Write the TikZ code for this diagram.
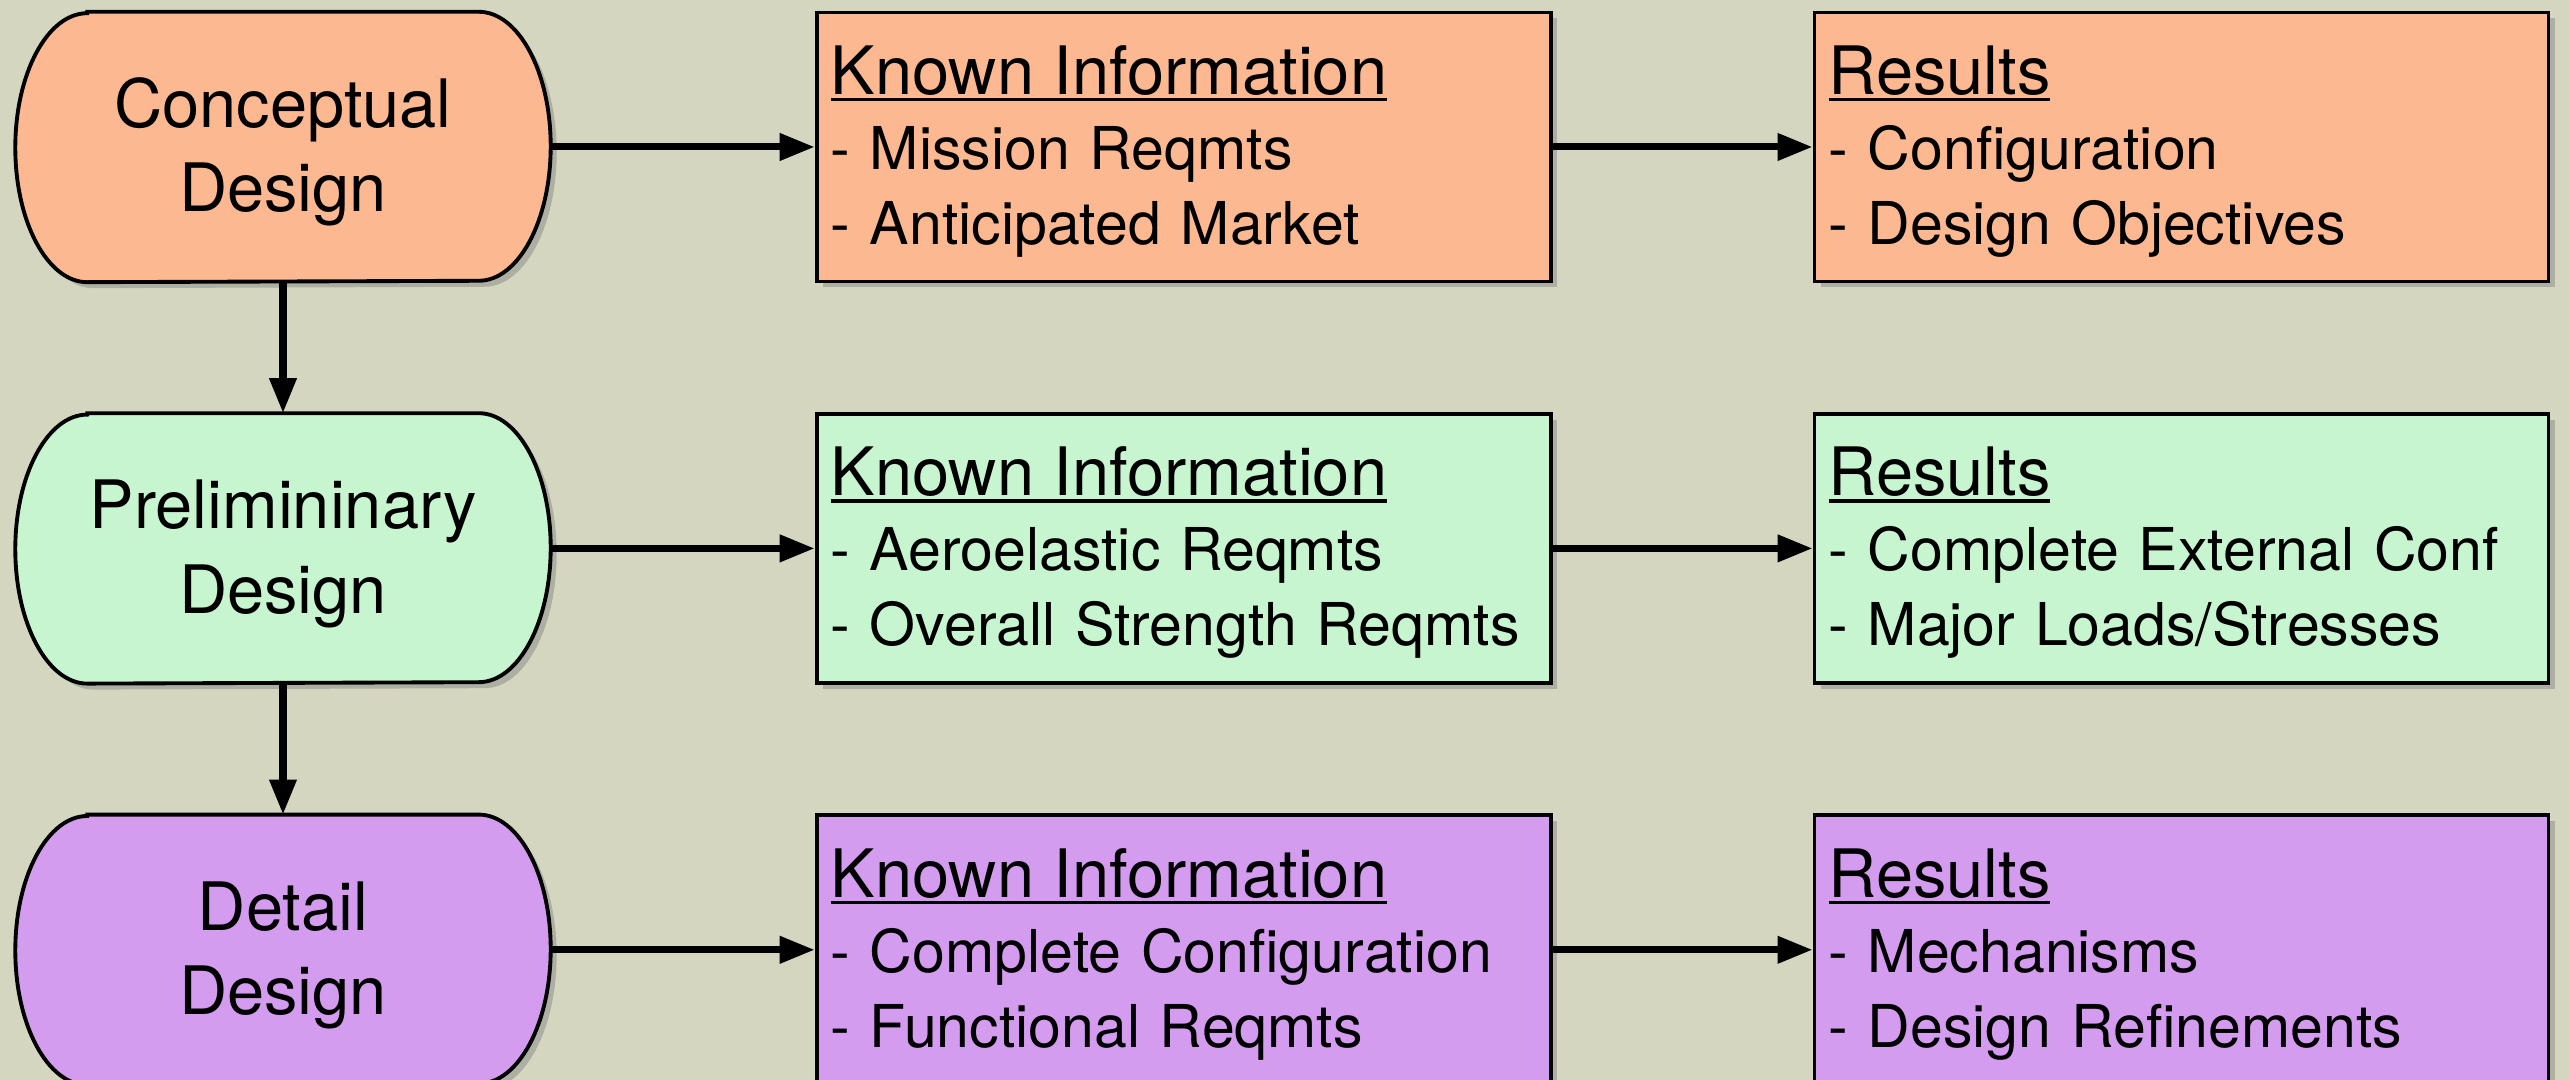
\documentclass[tikz,border=0pt]{standalone}
\usepackage{fontspec}
\setmainfont{TeX Gyre Heros}
\usetikzlibrary{positioning, arrows.meta, shadows, backgrounds}

\pgfdeclarelayer{paper}
\pgfsetlayers{paper,background,main}

\definecolor{paper}{RGB}{213,214,192}
\definecolor{concept}{RGB}{251,184,145}
\definecolor{prelim}{RGB}{198,245,207}
\definecolor{detail}{RGB}{211,156,238}

% underlined box title, a bit larger than the items
\newcommand{\heading}[1]{\setbox0\hbox{\fontsize{19}{21.3}\selectfont #1}\rlap{\rule[-0.07cm]{\wd0}{0.035cm}}\box0}

\begin{document}
\begin{tikzpicture}[
    font=\fontsize{19}{24}\selectfont, node distance=1.31cm and 2.64cm,
    stage/.style={minimum width=5.34cm, minimum height=2.69cm, text width=5.0cm,
                  inner sep=0pt, align=center, text height=0.49cm, text depth=0.88cm},
    outline/.style={draw=black, line width=1.1pt,
                    drop shadow={shadow xshift=0.06cm, shadow yshift=-0.06cm, opacity=0.45}},
    info/.style={outline, text width=7.06cm, inner xsep=0.14cm, inner ysep=0pt,
                 minimum height=2.69cm, align=left, text height=0.49cm, text depth=1.54cm,
                 font=\fontsize{16.8}{21.3}\selectfont},
    flow/.style={-{Triangle[length=0.35cm, width=0.26cm]}, line width=2pt, draw=black}
]
\useasboundingbox (0,0) rectangle (25.69,10.80);
\begin{pgfonlayer}{paper}
  \fill[paper] (0,0) rectangle (25.69,10.80);
\end{pgfonlayer}

\node[stage] (concept) at (2.83,9.33) {Conceptual\\Design};
\node[stage, below=of concept] (prelim) {Prelimininary\\Design};
\node[stage, below=of prelim] (detail) {Detail\\Design};

\node[info, fill=concept, right=of concept] (kconcept)
     {\heading{Known Information}\\- Mission Reqmts\\- Anticipated Market};
\node[info, fill=concept, right=2.6cm of kconcept] (rconcept)
     {\heading{Results}\\- Configuration\\- Design Objectives};
\node[info, fill=prelim, right=of prelim] (kprelim)
     {\heading{Known Information}\\- Aeroelastic Reqmts\\- Overall Strength Reqmts};
\node[info, fill=prelim, right=2.6cm of kprelim] (rprelim)
     {\heading{Results}\\- Complete External Conf\\- Major Loads/Stresses};
\node[info, fill=detail, right=of detail] (kdetail)
     {\heading{Known Information}\\- Complete Configuration\\- Functional Reqmts};
\node[info, fill=detail, right=2.6cm of kdetail] (rdetail)
     {\heading{Results}\\- Mechanisms\\- Design Refinements};

% stage outlines with elliptic ends
\begin{scope}[on background layer]
\foreach \n in {concept, prelim, detail}{
  \path[outline, fill=\n]
    ([xshift=0.72cm]\n.north west) -- ([xshift=-0.72cm]\n.north east)
    arc[start angle=90, end angle=-90, x radius=0.72cm, y radius=1.345cm]
    -- ([xshift=0.72cm]\n.south west)
    arc[start angle=270, end angle=90, x radius=0.72cm, y radius=1.345cm] -- cycle;
}
\end{scope}

\foreach \a/\b in {concept/kconcept, kconcept/rconcept, prelim/kprelim, kprelim/rprelim,
                   detail/kdetail, kdetail/rdetail, concept/prelim, prelim/detail}{\draw[flow] (\a)--(\b);}
\end{tikzpicture}
\end{document}
